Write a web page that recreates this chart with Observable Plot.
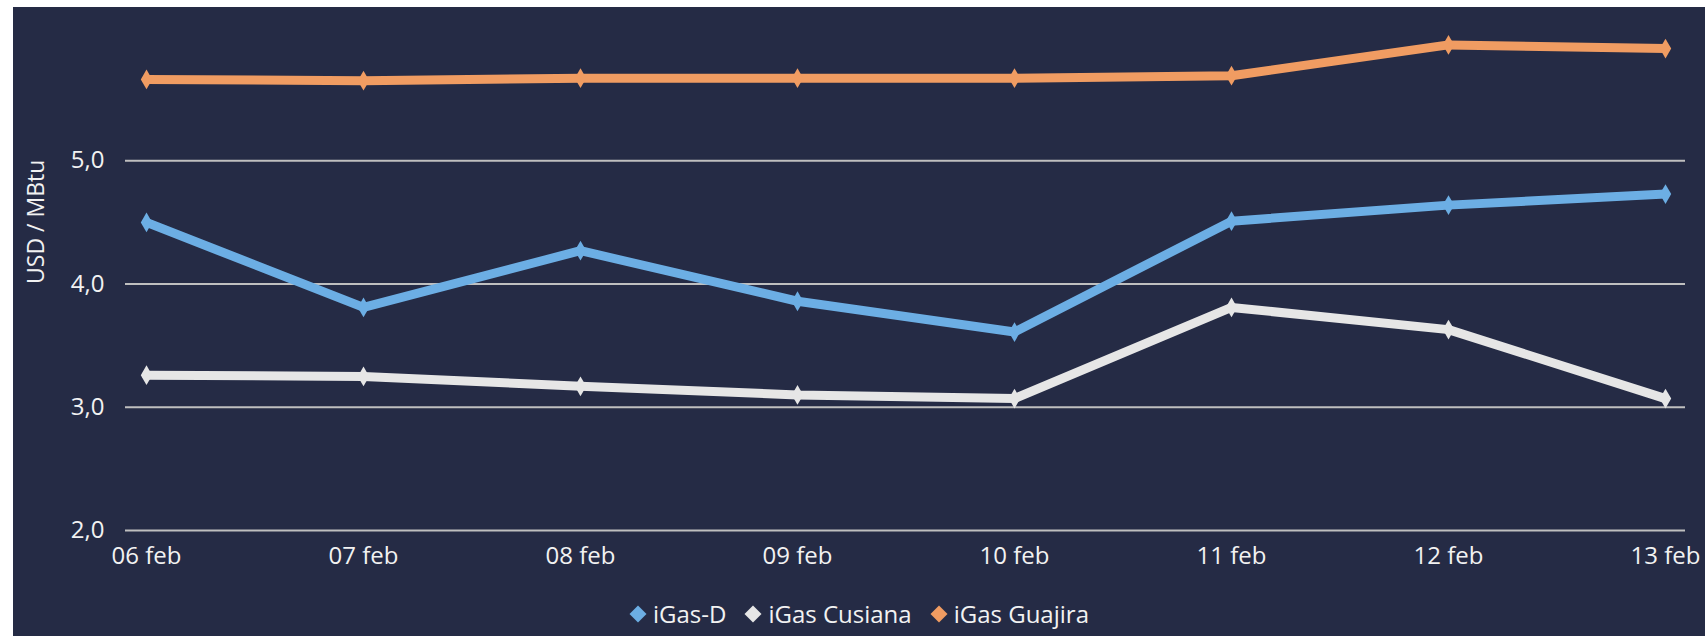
<!DOCTYPE html>
<html>
<head>
<meta charset="utf-8">
<script src="https://cdn.jsdelivr.net/npm/d3@7"></script>
<script src="https://cdn.jsdelivr.net/npm/@observablehq/plot@0.6"></script>
<style>
  html, body { margin: 0; padding: 0; background: #ffffff; }
  #chart {
    position: absolute; left: 13px; top: 7px; width: 1692px; height: 629px;
    background: #252B45; overflow: hidden;
    font-family: "Open Sans", "Noto Sans", sans-serif;
  }
  #chart svg { display: block; overflow: visible; }
  #legend {
    display: flex; justify-content: center; align-items: center; gap: 18px;
    margin-top: 17px; height: 30px; line-height: 30px;
    color: #F2F2F2; font-size: 24px;
  }
  .item { display: flex; align-items: center; gap: 6px; }
  .sw { width: 12px; height: 12px; transform: rotate(45deg); margin: 0 3px; }
</style>
</head>
<body>
<div id="chart"></div>
<script>
const dates = ["06 feb", "07 feb", "08 feb", "09 feb", "10 feb", "11 feb", "12 feb", "13 feb"];
const seriesNames = ["iGas-D", "iGas Cusiana", "iGas Guajira"];
const igasD    = [4.50, 3.81, 4.27, 3.86, 3.61, 4.51, 4.64, 4.73];
const cusiana  = [3.26, 3.25, 3.17, 3.10, 3.07, 3.81, 3.63, 3.07];
const guajira  = [5.66, 5.65, 5.67, 5.67, 5.67, 5.69, 5.94, 5.91];
const colors   = ["#6CAEE4", "#E6E6E6", "#F09C62"];
const yTicks   = [2, 3, 4, 5];
const yTitle   = "USD / MBtu";

const seriesValues = [igasD, cusiana, guajira];
const data = [];
seriesNames.forEach((s, i) => {
  dates.forEach((d, j) => data.push({series: s, date: d, value: seriesValues[i][j]}));
});

const plot = Plot.plot({
  width: 1692,
  height: 575,
  marginLeft: 112,
  marginRight: 20,
  marginTop: 30,
  marginBottom: 52,
  style: {background: "transparent", color: "#F2F2F2", fontFamily: "'Open Sans', 'Noto Sans', sans-serif", fontSize: "24px", overflow: "visible"},
  x: {type: "point", domain: dates, padding: 0, insetLeft: 19, insetRight: 19},
  y: {domain: [2, 6]},
  color: {domain: seriesNames, range: colors},
  marks: [
    Plot.ruleY(yTicks, {stroke: "#BFBFBF", strokeWidth: 2}),
    Plot.axisY({ticks: yTicks, tickSize: 0, tickPadding: 21, label: null,
      tickFormat: d => d.toFixed(1).replace(".", ",")}),
    Plot.axisX({tickSize: 0, tickPadding: 16, label: null}),
    Plot.line(data, {x: "date", y: "value", z: "series", stroke: "series",
      strokeWidth: 9, strokeLinejoin: "round"}),
    Plot.dot(data, {x: "date", y: "value", fill: "series", symbol: "diamond", r: 6}),
    Plot.text([yTitle], {frameAnchor: "left", rotate: -90, dx: -89, fill: "#F2F2F2", fontSize: 23})
  ]
});

const chart = document.getElementById("chart");
chart.appendChild(plot);

const legend = document.createElement("div");
legend.id = "legend";
seriesNames.forEach((s, i) => {
  const it = document.createElement("div");
  it.className = "item";
  const sw = document.createElement("span");
  sw.className = "sw";
  sw.style.background = colors[i];
  const tx = document.createElement("span");
  tx.textContent = s;
  it.appendChild(sw);
  it.appendChild(tx);
  legend.appendChild(it);
});
chart.appendChild(legend);
</script>
</body>
</html>
